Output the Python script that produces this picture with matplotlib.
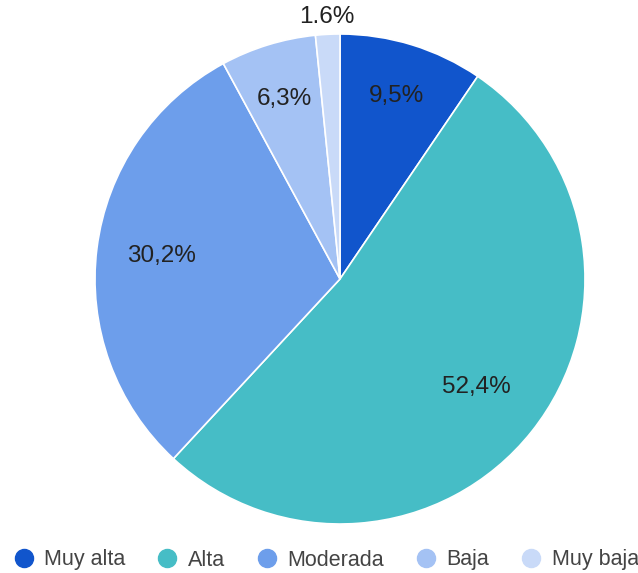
import numpy as np
import matplotlib.pyplot as plt
from matplotlib.lines import Line2D

plt.rcParams['font.family'] = ['Liberation Sans', 'DejaVu Sans']

# Daten
categories = ['Muy alta', 'Alta', 'Moderada', 'Baja', 'Muy baja']
values = [9.5, 52.4, 30.2, 6.3, 1.6]
labels_txt = ['9,5%', '52,4%', '30,2%', '6,3%', '1.6%']
colors = ['#1155CC', '#46BDC6', '#6D9EEB', '#A4C2F4', '#C9DAF8']

W, H = 638, 573
fig = plt.figure(figsize=(W / 100, H / 100), dpi=100)
ax = fig.add_axes([0, 0, 1, 1])

R = 245
cx, cy = 340, H - 279
wedges, _ = ax.pie(values, colors=colors, startangle=90, counterclock=False,
                   radius=R, center=(cx, cy),
                   wedgeprops=dict(edgecolor='white', linewidth=1.2))

# Beschriftungen der Segmente
dist = [0.78, 0.71, 0.735, 0.77, 1.07]
for w, txt, d in zip(wedges, labels_txt, dist):
    ang = np.deg2rad((w.theta1 + w.theta2) / 2)
    x = cx + d * R * np.cos(ang)
    y = cy + d * R * np.sin(ang)
    ax.text(x, y, txt, ha='center', va='center', fontsize=17.5, color='#222222')

ax.set_xlim(0, W)
ax.set_ylim(0, H)
ax.set_aspect('equal')
ax.axis('off')

handles = [Line2D([], [], marker='o', linestyle='', markersize=13,
                  markerfacecolor=c, markeredgecolor=c) for c in colors]
leg = fig.legend(handles, categories, loc='center', bbox_to_anchor=(0.5 + 8 / W, 1 - 560 / H),
                 ncol=5, frameon=False, fontsize=15.5, handlelength=0.8,
                 handletextpad=0.55, columnspacing=1.55, borderaxespad=0)
for t in leg.get_texts():
    t.set_color('#444444')

fig.savefig('out.png', dpi=100)
